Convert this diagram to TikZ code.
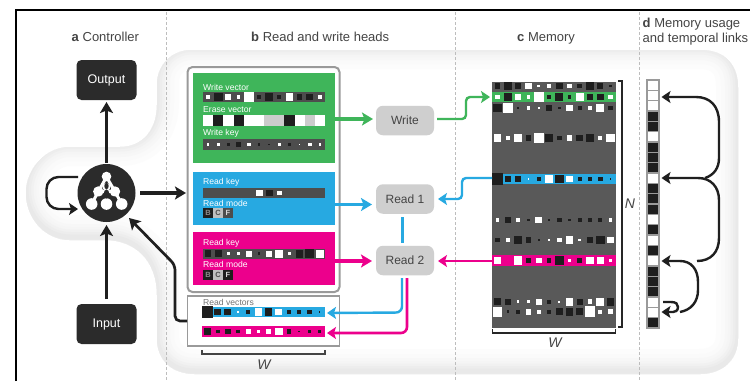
\documentclass[tikz,border=0pt]{standalone}
\usepackage{fontspec}
\setmainfont{Liberation Sans}
\usetikzlibrary{arrows.meta}
\definecolor{cgreen}{HTML}{3FB55A}
\definecolor{cblue}{HTML}{27A9E1}
\definecolor{cmag}{HTML}{EC008C}
\definecolor{cdark}{HTML}{2B2B2B}
\definecolor{cstrip}{HTML}{4D4D4D}
\definecolor{cmem}{HTML}{595959}
\definecolor{ckk}{HTML}{1E1E1E}
\definecolor{chead}{HTML}{444444}
\definecolor{cdiv}{HTML}{BDBDBD}
\definecolor{cframe}{HTML}{9A9A9A}
\tikzset{
  headtip/.tip={Stealth[length=11pt,width=13pt,inset=2.5pt]},
  smalltip/.tip={Stealth[length=9pt,width=12pt,inset=2pt]},
  blackbox/.style={fill=cdark,rounded corners=5pt,text=white,minimum width=60pt,minimum height=40pt,inner sep=0pt,outer sep=0pt,font=\fontsize{12.5}{14}\selectfont},
  opbox/.style={fill=black!19,rounded corners=7pt,text=chead,minimum width=58pt,minimum height=29.5pt,inner sep=0pt,outer sep=0pt,font=\fontsize{12}{14}\selectfont},
  band/.style={inner sep=0pt,outer sep=0pt,minimum width=142pt},
  tiny/.style={text=white,anchor=west,inner sep=0pt,font=\fontsize{8.6}{9}\selectfont},
  ctl/.style={line width=3.2pt,black!88},
  lnk/.style={line width=2.4pt,black!88},
  bracket/.style={line width=1.4pt,chead},
  headtext/.style={text=chead,inner sep=0pt,anchor=base west,font=\fontsize{13}{15}\selectfont},
  dim/.style={text=chead,inner sep=0pt,font=\itshape\fontsize{14}{15}\selectfont},
  divider/.style={cdiv,line width=0.8pt,dash pattern=on 3pt off 2pt},
}
\newcommand{\cellrow}[4]{%
  \foreach \s [count=\i from 0] in {#4} {%
    \pgfmathsetmacro\cx{#1+\i*#3}%
    \pgfmathsetmacro\hh{\s==0 ? 0 : min(abs(\s)+0.7,11.4)/2}%
    \ifdim \s pt<0pt
      \fill[ckk] (\cx-\hh,#2-\hh) rectangle (\cx+\hh,#2+\hh);
    \else
      \fill[white] (\cx-\hh,#2-\hh) rectangle (\cx+\hh,#2+\hh);
    \fi
  }%
}
\newcommand{\modecells}[2]{%
  \node[inner sep=0pt,minimum size=10pt,fill=ckk,text=black!45,font=\bfseries\fontsize{7.5}{8}\selectfont] at (208,#1) {B};
  \node[inner sep=0pt,minimum size=10pt,fill=black!25,text=black!70,font=\bfseries\fontsize{7.5}{8}\selectfont] at (218,#1) {C};
  \node[inner sep=0pt,minimum size=10pt,fill=#2,text=white!85!black,font=\bfseries\fontsize{7.5}{8}\selectfont] at (228,#1) {F};
}
\def\blobpath{(192,50) -- (700,50) .. controls (725,50) and (738,65) .. (738,88) -- (738,338) .. controls (738,360) and (722,374) .. (700,374) -- (195,374) .. controls (172,374) and (157,360) .. (157,338) -- (157,295) .. controls (157,260) and (135,240) .. (105,240) -- (70,240) .. controls (45,240) and (26,218) .. (26,193) .. controls (26,170) and (45,147) .. (70,147) -- (120,147) .. controls (143,147) and (157,130) .. (157,105) -- (157,85) .. controls (157,65) and (172,50) .. (192,50) -- cycle}
\begin{document}
\begin{tikzpicture}[x=1pt,y=-1pt]
\useasboundingbox (0,0) rectangle (750,381);
\fill[white] (0,0) rectangle (750,381);
% soft blob
\begin{scope}
  \clip \blobpath;
  \draw[black!1,line width=44pt,yshift=3pt] \blobpath;
  \draw[black!2,line width=34pt,yshift=3pt] \blobpath;
  \draw[black!3,line width=26pt,yshift=3pt] \blobpath;
  \draw[black!4,line width=20pt,yshift=3pt] \blobpath;
  \draw[black!5.5,line width=15pt,yshift=3pt] \blobpath;
  \draw[black!7,line width=10pt,yshift=3pt] \blobpath;
  \draw[black!8.5,line width=5pt,yshift=3pt] \blobpath;
\end{scope}
% frame
\draw[black,line width=2pt] (16,381) -- (16,10) -- (750,10);
% dividers
\draw[divider] (166,12) -- (166,381);
\draw[divider] (455,12) -- (455,381);
\draw[divider] (639,12) -- (639,381);
% headings
\node[headtext] at (71.5,41) {\textbf{a} Controller};
\node[headtext] at (251,41) {\textbf{b} Read and write heads};
\node[headtext] at (517,41) {\textbf{c} Memory};
\node[headtext] at (642.5,27) {\textbf{d} Memory usage};
\node[headtext] at (642.5,42) {and temporal links};
% controller
\node[blackbox] (output) at (106.5,80) {Output};
\node[blackbox] (input) at (106.5,324) {Input};
\node[circle,fill=cdark,minimum size=58pt,inner sep=0pt,outer sep=0pt] (ctrl) at (106.5,193) {};
\begin{scope}
  \draw[white,line width=3pt] (106.5,177) -- (98.3,191.5) -- (91.7,204) (106.5,177) -- (115,191.5) -- (121.7,204) (98.3,191.5) -- (115,191.5);
  \fill[white] (106.5,176.5) circle (4.8);
  \fill[white] (98.3,191.5) circle (5.2);
  \fill[white] (115,191.5) circle (5.2);
  \fill[white] (91.7,204) circle (5.8);
  \fill[white] (106.5,204) circle (5.8);
  \fill[white] (121.7,204) circle (5.8);
  \fill[white] (106.5,187) circle (4);
  \fill[cdark] (106.5,186) ellipse (2.2 and 3.2);
  \fill[cdark] (106.5,194) ellipse (2.8 and 4.6);
  \fill[cdark] (98.5,198) circle (1.6);
  \fill[cdark] (114.5,198) circle (1.6);
\end{scope}
\draw[ctl,-{headtip},shorten <=1pt,shorten >=2pt] (ctrl.north) -- (output.south);
\draw[ctl,-{headtip},shorten <=5pt,shorten >=3pt] (input.north) -- (ctrl.south);
\coordinate (loopa) at (78,177);
\coordinate (loopb) at (78,209);
\draw[line width=2.4pt,black!88,-{smalltip},rounded corners=12pt] (loopa) -- (46.5,177) -- (46.5,209) -- (loopb);
% head panel
\node[draw=cframe,line width=2pt,fill=white,rounded corners=5pt,minimum width=152pt,minimum height=225pt,inner sep=0pt,outer sep=0pt] (panel) at (263.5,179.5) {};
\node[band,fill=cgreen,minimum height=90pt] (gbox) at (264,118) {};
\node[band,fill=cblue,minimum height=53pt] (bbox) at (264,198.5) {};
\node[band,fill=cmag,minimum height=53pt] (mbox) at (264,258.5) {};
\coordinate (ctrlout) at (140,193);
\coordinate (panelin) at (186,193);
\draw[ctl,-{headtip}] (ctrlout) -- (panelin);
% green contents
\node[tiny] at (203,87) {Write vector};
\fill[cstrip] (203,92) rectangle (325,102);
\cellrow{208}{97}{10.17}{4,-8,5,3,9,-4,-7,-3,7,-5,-6,4}
\node[tiny] at (203,110) {Erase vector};
\foreach \c [count=\i from 0] in {white,ckk,white,ckk,white,white,black!20,black!20,ckk,white,black!20,white} {
  \fill[\c] (203+\i*10.17,115) rectangle (213.17+\i*10.17,126);
}
\node[tiny] at (203,133.5) {Write key};
\fill[cstrip] (203,139) rectangle (325,150);
\cellrow{208}{144.5}{10.17}{1.5,2,-2,-4,3,-2,-1,2,-2,1,3,2}
% blue contents
\node[tiny] at (203,182) {Read key};
\fill[cstrip] (203,188) rectangle (325,198);
\cellrow{259.5}{193}{10.17}{6,-6,4}
\node[tiny] at (203,203) {Read mode};
\modecells{213}{cstrip}
% magenta contents
\node[tiny] at (203,243) {Read key};
\fill[cstrip] (203,249) rectangle (325,258.5);
\cellrow{208}{253.7}{10.17}{-6,-6,2,2,5,-2,5,7,2,-7,-8,7}
\node[tiny] at (203,264) {Read mode};
\modecells{275}{ckk}
% read vectors
\node[draw=cframe,line width=1.6pt,fill=white,minimum width=152pt,minimum height=50pt,inner sep=0pt,outer sep=0pt] (rvec) at (263.5,321) {};
\node[text=black!55,anchor=west,inner sep=0pt,font=\fontsize{8.6}{9}\selectfont] at (203,302) {Read vectors};
\fill[cblue] (202,307) rectangle (325,317);
\cellrow{207.5}{312}{10.17}{-11,-6,-6,1,-3,7,-7,6,-3,-4,-4,-1}
\fill[cmag] (202,326) rectangle (325,337);
\cellrow{207.5}{331.5}{10.17}{-6,-3,-5,-3,4,2,4,7,-4,-1,-2,-3}
\draw[bracket] (202,350) -- (202,354) -- (325,354) -- (325,350);
\node[dim] at (264,365) {W};
% feedback to controller
\coordinate (rvecl) at (187,321);
\draw[line width=2.7pt,black!88,-{headtip},rounded corners=5pt] (rvecl) -- (175,321) -- (175,265) -- (129,218);
% op nodes
\node[opbox] (write) at (405,120.5) {Write};
\node[opbox] (readone) at (405,199) {Read 1};
\node[opbox] (readtwo) at (405,260.5) {Read 2};
% memory
\node[fill=cmem,minimum width=123.5pt,minimum height=246pt,inner sep=0pt,outer sep=0pt] (mem) at (554,205) {};
\fill[cgreen] (492.2,92) rectangle (615.8,102);
\fill[cblue] (503,174) rectangle (615.8,184);
\fill[cmag] (492.2,255) rectangle (615.8,266);
\cellrow{497.6}{86}{10.27}{-5,-8,-5,6,2,4,-6,4,-4,-8,-5,-2}
\cellrow{497.6}{97}{10.27}{4,-8,6,3,9,-4,-7,-3,7,-5,-6,4}
\cellrow{497.6}{108}{10.27}{-8,9,-2,3,1,-6,-2,6,-3,3,7,-4}
\cellrow{497.6}{138}{10.27}{7,4,7,-5,9,-8,-4,5,-6,-7,3,8}
\cellrow{497.6}{179}{10.27}{-11,-6,-6,1,-3,7,-8,6,-3,-4,-4,-1}
\cellrow{497.6}{220}{10.27}{3,-6,3,-2,6,-1,-4,-2,-3,-3,-3,3}
\cellrow{497.6}{240}{10.27}{-4,3,-7,-5,-1,2,4,7,2,-6,-8,6}
\cellrow{497.6}{260.5}{10.27}{6,0,8,-4,5,-4,-8,3,-4,7,6,3}
\cellrow{497.6}{301.7}{10.27}{-6,-5,2,2,5,-3,1,7,-5,4,7,-7}
\cellrow{497.6}{311.7}{10.27}{9,-2,-3,5,3,-3,-6,-7,-6,10,3,4}
\draw[bracket,black!85] (618,81) -- (622,81) -- (622,327) -- (618,327);
\node[dim] at (630,204) {N};
\draw[bracket,black!85] (492.5,329) -- (492.5,333) -- (615.5,333) -- (615.5,329);
\node[dim] at (555,343) {W};
% coloured connectors
\coordinate (gout) at (335,119);
\draw[cgreen,line width=3.2pt,-{headtip}] (gout) -- (373,119);
\coordinate (bout) at (335,204.5);
\draw[cblue,line width=3.2pt,-{headtip}] (bout) -- (372,204.5);
\coordinate (mout) at (335,261);
\draw[cmag,line width=3.2pt,-{headtip}] (mout) -- (372,261);
\coordinate (memg) at (490,97);
\draw[cgreen,line width=2.4pt,-{smalltip},rounded corners=4pt] (437,119) -- (466,119) -- (466,97) -- (memg);
\coordinate (memb) at (492,178);
\draw[cblue,line width=2.4pt,-{smalltip},rounded corners=4pt] (memb) -- (462,178) -- (462,199) -- (438,199);
\coordinate (memm) at (492,261);
\draw[cmag,line width=2.6pt,-{smalltip}] (memm) -- (438,261);
\draw[cblue,line width=3pt,shorten <=3pt,shorten >=3pt] (402,214) -- (402,245.75);
\coordinate (rvb) at (327,313);
\coordinate (rvm) at (327,333);
\draw[cblue,line width=2.4pt,-{smalltip},rounded corners=6pt] (402,278) -- (402,312.5) -- (rvb);
\draw[cmag,line width=2.6pt,-{smalltip},rounded corners=6pt] (407,278) -- (407,333) -- (rvm);
% usage column
\foreach \c [count=\i from 0] in {0,0,0,1,1,0,1,1,1,0,1,1,1,0,1,0,1,0,1,1,1,0,0,1} {
  \ifnum\c=1
    \fill[ckk] (647,80+\i*10.33) rectangle (659,90.33+\i*10.33);
    \draw[cframe,line width=1.5pt] (647,80+\i*10.33) rectangle (659,90.33+\i*10.33);
  \else
    \draw[cframe,fill=white,line width=1.2pt] (647,80+\i*10.33) rectangle (659,90.33+\i*10.33);
  \fi
}
\coordinate (ua) at (661.5,97);
\coordinate (ub) at (661.5,178);
\coordinate (uc) at (661.5,261);
\coordinate (ud) at (661.5,312);
\draw[lnk,-{smalltip}] (705,178) .. controls (714,175) and (719,168) .. (719,158) -- (719,122) .. controls (719,106) and (710,97) .. (696,97) -- (ua);
\draw[lnk,-{smalltip}] (697,261) .. controls (711,261) and (719,252) .. (719,238) -- (719,200) .. controls (719,187) and (711,178) .. (698,178) -- (ub);
\draw[lnk,-{smalltip}] (680,312) .. controls (691,310) and (698,302) .. (698,290) -- (698,282) .. controls (698,269) and (691,261) .. (680,261) -- (uc);
\draw[lnk,-{smalltip}] (663,302) -- (671,302) .. controls (676,302) and (678,304) .. (678,307) .. controls (678,311) and (675,312) .. (673,312) -- (ud);
\end{tikzpicture}
\end{document}
